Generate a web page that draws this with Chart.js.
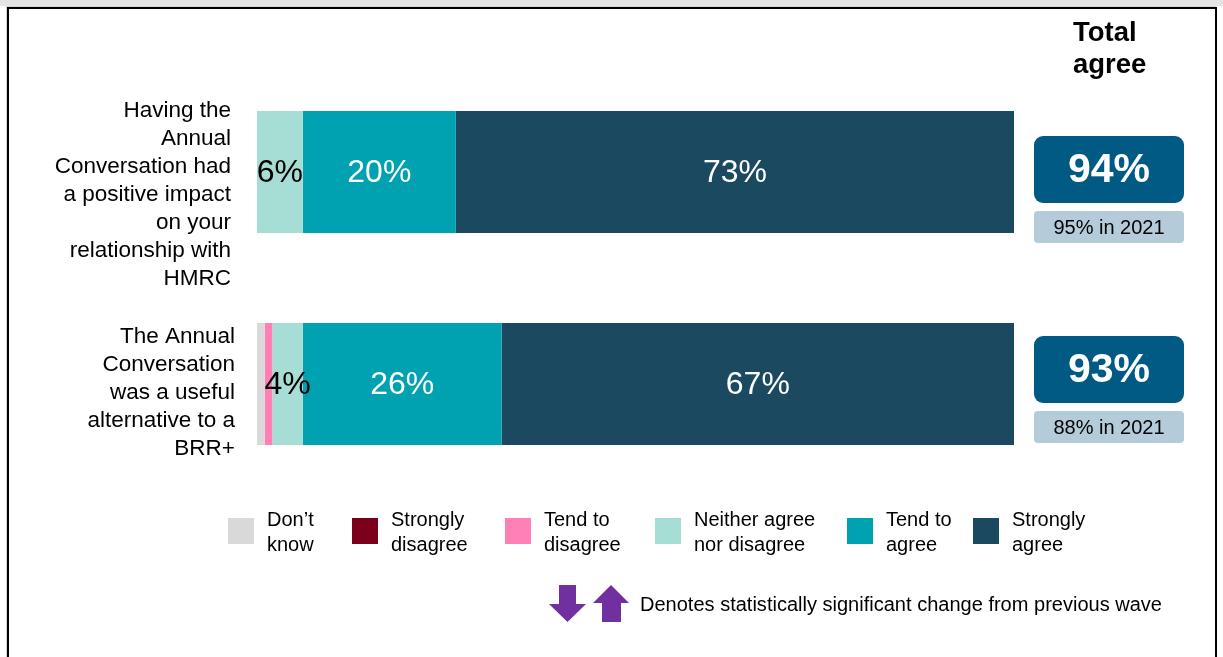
<!DOCTYPE html>
<html>
<head>
<meta charset="utf-8">
<script src="https://cdn.jsdelivr.net/npm/chart.js@4.4.1/dist/chart.umd.min.js"></script>
<style>
  html, body { margin: 0; padding: 0; background: #fff; }
  #wrap { position: relative; width: 1223px; height: 657px; overflow: hidden; }
  #topband { position: absolute; left: 0; top: 0; width: 1223px; height: 6px; background: #e4e4e4; }
  #frame {
    position: absolute; left: 7px; top: 7px; width: 1206px; height: 700px;
    border: 2px solid #000; box-shadow: -1px -1px 0 #d6d6d6;
  }
  canvas { position: absolute; left: 0; top: 0; }
</style>
</head>
<body>
<div id="wrap">
  <div id="topband"></div>
  <div id="frame"></div>
  <canvas id="chart" width="1223" height="657"></canvas>
</div>
<script>
const FONT = '"Liberation Sans", Arial, sans-serif';

const statements = [
  ["Having the", "Annual", "Conversation had", "a positive impact", "on your", "relationship with", "HMRC"],
  ["The Annual", "Conversation", "was a useful", "alternative to a", "BRR+"]
];

const responses = [
  ["Don’t", "know"],
  ["Strongly", "disagree"],
  ["Tend to", "disagree"],
  ["Neither agree", "nor disagree"],
  ["Tend to", "agree"],
  ["Strongly", "agree"]
];
const colours = ["#d9d9d9", "#7b001c", "#ff7fb6", "#a6ddd5", "#00a1b0", "#1b4a60"];
const labelColours = ["#000", "#fff", "#000", "#000", "#fff", "#fff"];

// one array per response, values per statement
const dontKnow = [0, 1];
const stronglyDisagree = [0, 0];
const tendDisagree = [0, 1];
const neither = [6, 4];
const tendAgree = [20, 26];
const stronglyAgree = [73, 67];

const totalAgree = ["94%", "93%"];
const previousWave = ["95% in 2021", "88% in 2021"];

const series = [dontKnow, stronglyDisagree, tendDisagree, neither, tendAgree, stronglyAgree];

// text around the bars: statement labels, totals, legend and the note
const extras = {
  id: "extras",
  afterDatasetsDraw(chart) {
    const ctx = chart.ctx;
    const y = chart.scales.y;

    // value labels inside the segments
    ctx.save();
    ctx.textAlign = "center";
    ctx.textBaseline = "middle";
    ctx.font = "32px " + FONT;
    chart.data.datasets.forEach((ds, di) => {
      const meta = chart.getDatasetMeta(di);
      meta.data.forEach((bar, i) => {
        const v = ds.data[i];
        if (v < 4) return;
        ctx.fillStyle = labelColours[di];
        ctx.fillText(v + "%", (bar.base + bar.x) / 2, bar.y + 1);
      });
    });
    ctx.restore();

    // statement labels on the left
    const labelShift = [22, 8];
    const labelRight = [231, 235];
    ctx.save();
    ctx.font = "22.5px " + FONT;
    ctx.fillStyle = "#000";
    ctx.textAlign = "right";
    ctx.textBaseline = "middle";
    statements.forEach((lines, i) => {
      const cy = y.getPixelForValue(i) + labelShift[i];
      const top = cy - (lines.length - 1) * 14;
      lines.forEach((t, k) => ctx.fillText(t, labelRight[i], top + 1 + k * 28));
    });
    ctx.restore();

    // total agree column
    ctx.save();
    ctx.font = "bold 27.5px " + FONT;
    ctx.fillStyle = "#000";
    ctx.textBaseline = "middle";
    ctx.fillText("Total", 1073, 33);
    ctx.fillText("agree", 1073, 65);

    const boxShift = [-36, -48];
    totalAgree.forEach((t, i) => {
      const top = y.getPixelForValue(i) + boxShift[i];
      ctx.fillStyle = "#005a84";
      ctx.beginPath();
      ctx.roundRect(1034, top, 150, 67, 9);
      ctx.fill();
      ctx.fillStyle = "#b4ccda";
      ctx.beginPath();
      ctx.roundRect(1034, top + 75, 150, 32, 4);
      ctx.fill();
      ctx.textAlign = "center";
      ctx.fillStyle = "#fff";
      ctx.font = "bold 41px " + FONT;
      ctx.fillText(t, 1109, top + 35);
      ctx.fillStyle = "#000";
      ctx.font = "20px " + FONT;
      ctx.fillText(previousWave[i], 1109, top + 92);
    });
    ctx.restore();

    // legend
    const legendX = [228, 352, 505, 655, 847, 973];
    ctx.save();
    ctx.font = "20px " + FONT;
    ctx.textBaseline = "middle";
    ctx.textAlign = "left";
    responses.forEach((lines, i) => {
      ctx.fillStyle = colours[i];
      ctx.fillRect(legendX[i], 518, 26, 26);
      ctx.fillStyle = "#000";
      ctx.fillText(lines[0], legendX[i] + 39, 520);
      ctx.fillText(lines[1], legendX[i] + 39, 545);
    });
    ctx.restore();

    // significance note with arrows
    ctx.save();
    ctx.fillStyle = "#7030a0";
    ctx.beginPath();
    ctx.moveTo(559, 585); ctx.lineTo(576, 585); ctx.lineTo(576, 604);
    ctx.lineTo(586, 604); ctx.lineTo(567.5, 622); ctx.lineTo(549, 604);
    ctx.lineTo(559, 604); ctx.closePath(); ctx.fill();
    ctx.beginPath();
    ctx.moveTo(602, 622); ctx.lineTo(621, 622); ctx.lineTo(621, 603);
    ctx.lineTo(629, 603); ctx.lineTo(611, 585); ctx.lineTo(593, 603);
    ctx.lineTo(602, 603); ctx.closePath(); ctx.fill();
    ctx.fillStyle = "#000";
    ctx.font = "20px " + FONT;
    ctx.textBaseline = "middle";
    const note = "Denotes statistically significant change from previous wave";
    const w = ctx.measureText(note).width;
    const sx = 522 / w;
    ctx.translate(640, 605);
    ctx.scale(sx, 1);
    ctx.fillText(note, 0, 0);
    ctx.restore();
  }
};

new Chart(document.getElementById("chart"), {
  type: "bar",
  data: {
    labels: statements.map(s => s.join(" ")),
    datasets: series.map((data, i) => ({
      label: responses[i].join(" "),
      data,
      backgroundColor: colours[i],
      borderWidth: 0,
      barPercentage: 1,
      categoryPercentage: 0.575
    }))
  },
  options: {
    indexAxis: "y",
    responsive: false,
    animation: false,
    layout: { padding: { left: 257, right: 209, top: 66, bottom: 167 } },
    scales: {
      x: { stacked: true, min: 0, max: 99, display: false },
      y: { stacked: true, display: false }
    },
    plugins: {
      legend: { display: false },
      tooltip: { enabled: false }
    }
  },
  plugins: [extras]
});
</script>
</body>
</html>
